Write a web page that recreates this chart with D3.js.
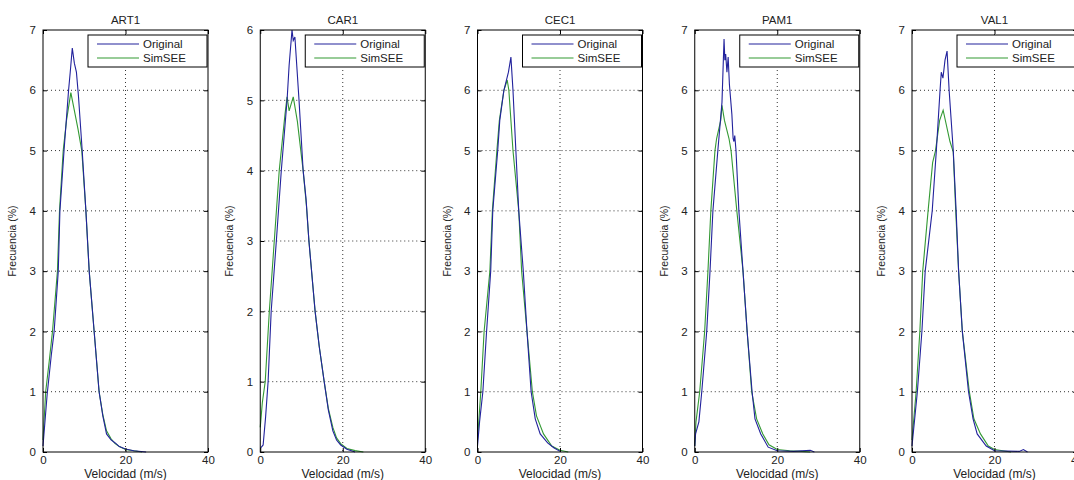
<!DOCTYPE html>
<html>
<head>
<meta charset="utf-8">
<script src="https://cdn.jsdelivr.net/npm/d3@7"></script>
<style>
  html, body { margin: 0; padding: 0; background: #fff; }
  svg { display: block; font-family: "Liberation Sans", Arial, sans-serif; }
  .grid line { stroke: #000; stroke-width: 0.8; stroke-dasharray: 1 3; }
  .tick-label { font-size: 11.5px; fill: #222; }
</style>
</head>
<body>
<div id="chart"></div>
<script>
// estaciones y datos
const estaciones = ["ART1", "CAR1", "CEC1", "PAM1", "VAL1"];
const yMaximos = [7, 6, 7, 7, 7];
const xTicks = [0, 20, 40];
const serieNombres = ["Original", "SimSEE"];

const art1Original = [[0,0.1],[1,0.95],[2,1.6],[2.7,2],[3.7,3],[4.1,4],[5.1,5],[6.2,6],[6.6,6.3],[7.1,6.7],[7.6,6.45],[8.1,6.3],[8.6,5.9],[9.5,5],[10.4,4],[11.2,3],[12.4,2],[13.6,1],[14.5,0.6],[15.4,0.3],[16.5,0.2],[17.5,0.15],[18.5,0.09],[20,0.05],[22,0.02],[25,0]];
const art1SimSEE = [[0,0.2],[0.65,1],[1.5,1.5],[2.3,2],[3.5,3],[4.0,4],[4.9,5],[5.7,5.5],[6.75,5.96],[7.5,5.7],[8.5,5.35],[9.4,5],[10.4,4],[11.2,3],[12.4,2],[13.6,1],[14.5,0.62],[15.4,0.35],[16.5,0.22],[17.5,0.14],[18.5,0.09],[20,0.04],[22,0.02],[24,0]];

const car1Original = [[0,0.05],[0.7,0.1],[1.3,0.5],[1.9,1],[2.65,2],[3.9,3],[5.1,4],[6.5,5],[7.0,5.5],[7.7,6],[8.0,5.85],[8.4,5.9],[9.4,5],[10.4,4],[11.1,3.6],[11.8,3],[13.3,2],[14.3,1.5],[15.5,1],[16.5,0.6],[17.6,0.3],[18.5,0.17],[19.5,0.1],[21,0.04],[23,0]];
const car1SimSEE = [[0,0.35],[0.5,0.7],[1.2,1],[2.2,2],[3.4,3],[4.6,4],[6.0,4.8],[6.5,5.05],[7.0,4.85],[8.0,5.05],[9.0,4.7],[10.4,4],[11.2,3.5],[11.8,3],[13.3,2],[14.3,1.5],[15.5,1],[16.5,0.62],[17.6,0.35],[18.5,0.2],[19.5,0.12],[21,0.05],[23,0.02],[25,0]];

const cec1Original = [[0,0.1],[0.5,0.5],[1.3,1],[2.2,2],[3.2,3],[3.7,4],[4.9,5],[5.4,5.5],[6.4,6],[7.5,6.3],[8.1,6.55],[8.6,6.0],[9.3,5],[10,4],[11.1,3],[12,2],[13,1],[14,0.55],[15.2,0.3],[17,0.15],[18.5,0.07],[20,0.01]];
const cec1SimSEE = [[0,0.2],[0.8,1],[1.6,2],[3.0,3],[3.6,4],[4.7,5],[5.3,5.5],[6.4,6.0],[7.2,6.17],[7.6,6.0],[8.6,5.0],[10,4],[10.7,3],[12,2],[13.3,1],[14.3,0.6],[16,0.3],[18,0.1],[20,0.03],[22,0]];

const pam1Original = [[0,0.1],[0.2,0.3],[1.0,0.5],[1.7,1],[2.9,2],[3.7,3],[4.4,4],[5.6,5],[6.6,5.8],[7.1,6.85],[7.3,6.5],[7.5,6.6],[7.8,6.3],[8.1,6.55],[8.4,6.1],[9.0,5.6],[9.3,5.2],[9.5,5.15],[9.7,5.25],[10.0,5.0],[10.7,4],[11.7,3],[12.7,2],[13.9,1],[14.6,0.55],[16,0.3],[17.8,0.08],[20,0.02],[24,0.01],[28,0.03],[29,0]];
const pam1SimSEE = [[0,0.1],[0.3,0.5],[1.2,1],[2.4,2],[3.2,3],[3.9,4],[4.9,5],[5.3,5.2],[6.3,5.5],[6.6,5.75],[7.2,5.5],[8.3,5.2],[8.8,5.0],[10.2,4],[11.7,3],[12.7,2],[13.8,1],[15,0.55],[16.5,0.3],[18,0.12],[20,0.04],[23,0.02],[26,0.01],[28,0]];

const val1Original = [[0,0.1],[1.3,1],[2.4,2],[3.2,3],[4.9,4],[5.9,5],[6.8,6],[7.1,6.3],[7.5,6.2],[8.0,6.5],[8.5,6.65],[9.0,6.0],[10.0,5],[10.7,4],[11.3,3],[12.2,2],[13.7,1],[14.8,0.55],[15.8,0.3],[18,0.1],[20,0.02],[26,0.01],[27,0.04],[28,0]];
const val1SimSEE = [[0,0.2],[1.0,1],[1.9,2],[2.6,3],[3.9,4],[5.0,4.8],[5.7,5],[6.7,5.5],[7.55,5.67],[9.2,5.15],[10.0,4.98],[10.6,4],[11.3,3],[12.2,2],[13.9,1],[15,0.55],[16.6,0.3],[18.5,0.1],[20,0.04],[24,0]];

const datosOriginal = [art1Original, car1Original, cec1Original, pam1Original, val1Original];
const datosSimSEE = [art1SimSEE, car1SimSEE, cec1SimSEE, pam1SimSEE, val1SimSEE];

const colorOriginal = "#22229c";
const colorSimSEE = "#339933";

const width = 1074;
const height = 480;
const svg = d3.select("#chart").append("svg")
  .attr("width", width)
  .attr("height", height);

const anchoPanel = 165;
const yArriba = 30;
const yAbajo = 452;
const posicion = d3.scalePoint().domain(estaciones).range([43, 912]);

estaciones.forEach((estacion, i) => {
  const left = posicion(estacion);
  const right = left + anchoPanel;
  const x = d3.scaleLinear().domain([0, 40]).range([left, right]);
  const y = d3.scaleLinear().domain([0, yMaximos[i]]).range([yAbajo, yArriba]);
  const yTicks = d3.range(0, yMaximos[i] + 1);

  const g = svg.append("g");

  // grilla punteada
  const grid = g.append("g").attr("class", "grid");
  grid.selectAll("line.gx").data(xTicks.slice(1, -1)).enter().append("line")
    .attr("x1", d => x(d)).attr("x2", d => x(d))
    .attr("y1", yArriba).attr("y2", yAbajo);
  grid.selectAll("line.gy").data(yTicks.slice(1, -1)).enter().append("line")
    .attr("x1", left).attr("x2", right)
    .attr("y1", d => y(d)).attr("y2", d => y(d));

  // curvas
  const linea = d3.line().x(d => x(d[0])).y(d => y(d[1]));
  g.append("path").datum(datosSimSEE[i])
    .attr("d", linea).attr("fill", "none")
    .attr("stroke", colorSimSEE).attr("stroke-width", 1.1);
  g.append("path").datum(datosOriginal[i])
    .attr("d", linea).attr("fill", "none")
    .attr("stroke", colorOriginal).attr("stroke-width", 1.1);

  // caja y ticks hacia adentro
  g.append("rect")
    .attr("x", left).attr("y", yArriba)
    .attr("width", anchoPanel).attr("height", yAbajo - yArriba)
    .attr("fill", "none").attr("stroke", "#000").attr("stroke-width", 1);

  const axB = d3.axisBottom(x).tickValues(xTicks).tickSizeInner(-4).tickSizeOuter(0).tickPadding(4).tickFormat(d3.format("d"));
  const axT = d3.axisTop(x).tickValues(xTicks).tickSizeInner(-4).tickSizeOuter(0).tickFormat("");
  const axL = d3.axisLeft(y).tickValues(yTicks).tickSizeInner(-4).tickSizeOuter(0).tickPadding(7).tickFormat(d3.format("d"));
  const axR = d3.axisRight(y).tickValues(yTicks).tickSizeInner(-4).tickSizeOuter(0).tickFormat("");

  [[axB, `translate(0,${yAbajo})`], [axT, `translate(0,${yArriba})`],
   [axL, `translate(${left},0)`], [axR, `translate(${right},0)`]].forEach(([ax, tr]) => {
    const a = g.append("g").attr("transform", tr).call(ax);
    a.select(".domain").remove();
    a.selectAll("text").attr("class", "tick-label")
      .attr("font-family", null).attr("font-size", null);
  });

  // titulo y etiquetas
  g.append("text")
    .attr("x", (left + right) / 2).attr("y", 24)
    .attr("text-anchor", "middle")
    .style("font-size", "11.5px").style("fill", "#222")
    .text(estacion);

  g.append("text")
    .attr("x", (left + right) / 2).attr("y", 478)
    .attr("text-anchor", "middle")
    .style("font-size", "12px").style("fill", "#222")
    .text("Velocidad (m/s)");

  g.append("text")
    .attr("transform", `translate(${left - 27},${(yArriba + yAbajo) / 2}) rotate(-90)`)
    .attr("text-anchor", "middle")
    .style("font-size", "10.5px").style("fill", "#222")
    .text("Frecuencia (%)");

  // leyenda
  const lx = right - 120;
  const leyenda = g.append("g").attr("transform", `translate(${lx},35)`);
  leyenda.append("rect")
    .attr("width", 119).attr("height", 32)
    .attr("fill", "#fff").attr("stroke", "#000").attr("stroke-width", 1);
  [colorOriginal, colorSimSEE].forEach((c, k) => {
    const yy = 9 + k * 14;
    leyenda.append("line")
      .attr("x1", 9).attr("x2", 51).attr("y1", yy).attr("y2", yy)
      .attr("stroke", c).attr("stroke-width", 1.1);
    leyenda.append("text")
      .attr("x", 55).attr("y", yy + 4)
      .style("font-size", "11.5px").style("fill", "#222")
      .text(serieNombres[k]);
  });
});
</script>
</body>
</html>
